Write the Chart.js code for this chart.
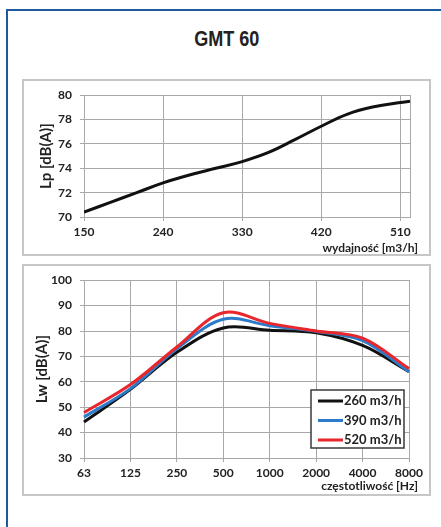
<!DOCTYPE html>
<html>
<head>
<meta charset="utf-8">
<script src="https://cdn.jsdelivr.net/npm/chart.js@4.4.1/dist/chart.umd.min.js"></script>
<style>
    body { margin: 0; background: #fff; width: 441px; height: 527px; overflow: hidden; position: relative; font-family: Lato, sans-serif; }
    #frame { position: absolute; left: 6px; top: 9px; width: 460px; height: 560px; border: 2px solid #1f5b9c; }
    #title { position: absolute; left: 7px; width: 439px; top: 26px; line-height: 22px; text-align: center; color: #222; }
    #title span { display: inline-block; font: bold 22px "Liberation Sans", Arial, sans-serif; transform: scaleX(0.82); }
    .box { position: absolute; left: 22px; width: 409px; border: 2px solid #c6c6c6; box-sizing: border-box; }
    canvas { position: absolute; left: 23px; }
</style>
</head>
<body>
<div id="frame"></div>
<div id="title"><span>GMT 60</span></div>
<div class="box" style="top:79px;height:177px"></div>
<div class="box" style="top:264px;height:232px"></div>
<canvas id="lpChart" width="407" height="175" style="top:80px"></canvas>
<canvas id="lwChart" width="407" height="230" style="top:265px"></canvas>
<script>
    "use strict";

    // top chart: sound pressure vs. air flow
    const flowX = [150, 180, 210, 240, 270, 300, 330, 360, 390, 420, 450, 480, 510, 521];
    const lpValues = [70.4, 71.2, 72.0, 72.8, 73.45, 74.0, 74.55, 75.3, 76.35, 77.45, 78.45, 79.05, 79.4, 79.5];
    const flowTicks = [150, 240, 330, 420, 510];

    // bottom chart: sound power per octave band
    const freqLabels = ['63', '125', '250', '500', '1000', '2000', '4000', '8000'];
    const lw260 = [44.2, 57.0, 71.6, 81.2, 80.3, 79.3, 74.3, 64.0];
    const lw390 = [46.1, 57.3, 73.0, 84.6, 82.1, 79.8, 76.2, 64.0];
    const lw520 = [47.9, 58.9, 73.7, 87.2, 83.0, 80.0, 77.2, 65.2];
    const seriesNames = ['260 m3/h', '390 m3/h', '520 m3/h'];
    const seriesColors = ['#111111', '#2b7bca', '#e8262b'];

    const gridColor = '#a8a8a8';
    const tickFont = { family: 'Lato', size: 12, weight: 'bold' };
    const axisTitleFont = { family: 'Lato', size: 15, weight: 'bold' };

    // "utils" plugin: closes the plot area with a thin border
    const plotBorder = {
        id: 'plotBorder',
        beforeDatasetsDraw(chart) {
            const { ctx, chartArea: a } = chart;
            ctx.save();
            ctx.strokeStyle = gridColor;
            ctx.lineWidth = 1;
            ctx.strokeRect(Math.round(a.left) + 0.5, Math.round(a.top) + 0.5, Math.round(a.width), Math.round(a.height));
            ctx.restore();
        }
    };

    // x axis title sits right-aligned, a bit past the plot edge
    const xTitle = {
        id: 'xTitle',
        afterDraw(chart, args, opts) {
            const { ctx, chartArea: a } = chart;
            ctx.save();
            ctx.font = 'bold 12px Lato';
            ctx.fillStyle = '#222';
            ctx.textAlign = 'right';
            ctx.textBaseline = 'middle';
            ctx.fillText(opts.text, a.right + opts.dx, a.bottom + opts.dy);
            ctx.restore();
        }
    };

    // boxed legend inside the plot, lower right
    const boxLegend = {
        id: 'boxLegend',
        afterDraw(chart) {
            const { ctx, chartArea: a } = chart;
            const w = 93, h = 58;
            const x = a.right - 5 - w, y = a.bottom - 10 - h;
            ctx.save();
            ctx.fillStyle = '#fff';
            ctx.fillRect(x, y, w, h);
            ctx.strokeStyle = '#3a3a3a';
            ctx.lineWidth = 1.5;
            ctx.strokeRect(x, y, w, h);
            ctx.font = 'bold 13px Lato';
            ctx.textBaseline = 'middle';
            chart.data.datasets.forEach((ds, i) => {
                const ry = y + 11 + i * 19.5;
                ctx.strokeStyle = ds.borderColor;
                ctx.lineWidth = 3;
                ctx.beginPath();
                ctx.moveTo(x + 7, ry);
                ctx.lineTo(x + 32, ry);
                ctx.stroke();
                ctx.fillStyle = '#222';
                ctx.fillText(ds.label, x + 33, ry);
            });
            ctx.restore();
        }
    };

    // Lp vs flow
    new Chart(document.getElementById('lpChart'), {
        type: 'line',
        data: {
            datasets: [{
                data: flowX.map((x, i) => ({ x: x, y: lpValues[i] })),
                borderColor: '#111',
                borderWidth: 3,
                pointRadius: 0,
                tension: 0.4
            }]
        },
        options: {
            responsive: false,
            animation: false,
            layout: { padding: { top: 9, right: 20, left: 0, bottom: 0 } },
            plugins: {
                legend: { display: false },
                tooltip: { enabled: false },
                xTitle: { text: 'wydajność [m3/h]', dx: 8, dy: 31 }
            },
            scales: {
                x: {
                    type: 'linear',
                    min: 150,
                    max: 521,
                    afterBuildTicks: s => { s.ticks = flowTicks.map(v => ({ value: v })); },
                    afterFit: s => { s.height = 38; },
                    grid: { color: gridColor, tickLength: 4 },
                    border: { color: gridColor },
                    ticks: { font: tickFont, color: '#222', padding: 4, maxRotation: 0 }
                },
                y: {
                    min: 70,
                    max: 80,
                    ticks: { stepSize: 2, font: tickFont, color: '#222', padding: 8 },
                    afterFit: s => { s.width = 61; },
                    grid: { color: gridColor, tickLength: 4 },
                    border: { color: gridColor },
                    title: { display: true, text: 'Lp [dB(A)]', font: axisTitleFont, color: '#222', padding: { top: 14.5, bottom: 0 } }
                }
            }
        },
        plugins: [plotBorder, xTitle]
    });

    // Lw per octave band
    new Chart(document.getElementById('lwChart'), {
        type: 'line',
        data: {
            labels: freqLabels,
            datasets: [lw260, lw390, lw520].map((vals, i) => ({
                label: seriesNames[i],
                data: vals,
                borderColor: seriesColors[i],
                borderWidth: 3,
                pointRadius: 0,
                tension: 0.35,
                order: 2 - i
            }))
        },
        options: {
            responsive: false,
            animation: false,
            layout: { padding: { top: 12, right: 21, left: 0, bottom: 0 } },
            plugins: {
                legend: { display: false },
                tooltip: { enabled: false },
                xTitle: { text: 'częstotliwość [Hz]', dx: 9, dy: 28 }
            },
            scales: {
                x: {
                    offset: false,
                    afterFit: s => { s.height = 37; },
                    grid: { color: gridColor, tickLength: 4, offset: false },
                    border: { color: gridColor },
                    ticks: { font: tickFont, color: '#222', padding: 4, maxRotation: 0, autoSkip: false }
                },
                y: {
                    min: 30,
                    max: 100,
                    ticks: { stepSize: 10, font: tickFont, color: '#222', padding: 8 },
                    afterFit: s => { s.width = 61; },
                    grid: { color: gridColor, tickLength: 4 },
                    border: { color: gridColor },
                    title: { display: true, text: 'Lw [dB(A)]', font: axisTitleFont, color: '#222', padding: { top: 10, bottom: 0 } }
                }
            }
        },
        plugins: [plotBorder, xTitle, boxLegend]
    });
</script>
</body>
</html>
